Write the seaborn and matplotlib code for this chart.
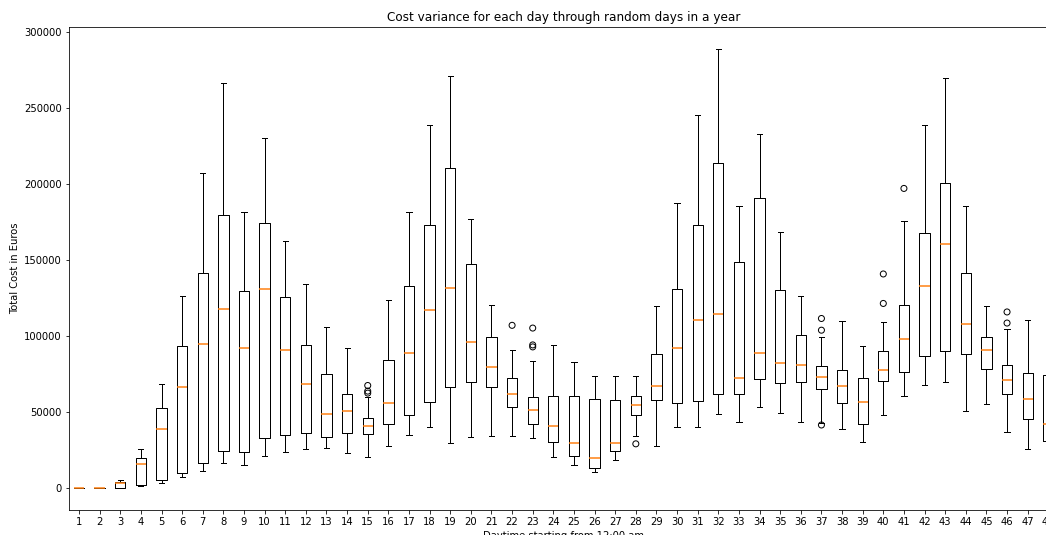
import matplotlib
matplotlib.use("Agg")
import matplotlib.pyplot as plt
import numpy as np
import pandas as pd
import seaborn as sns

# Day labels along the x axis
days = [str(d) for d in range(1, 49)]

# Five-number summary per day (Euros)
whisker_low = [0, 0, 0, 1300, 3400, 7400, 11500, 16200, 15100, 21000,
               23700, 25500, 26100, 23000, 20500, 27500, 34900, 39900, 29800, 33800,
               34300, 34300, 33100, 20500, 15100, 10400, 18500, 34300, 27900, 39900,
               40100, 48500, 43500, 53600, 49100, 43500, 43000, 39000, 30200, 47800,
               60400, 67800, 69900, 50700, 55400, 36700, 25500, 22500]
q1 = [0, 0, 0, 1700, 5000, 9700, 16700, 24300, 23700, 33100,
      34900, 36300, 33800, 36300, 35400, 42400, 48200, 56600, 66500, 69900,
      66500, 53600, 42400, 30200, 21000, 13100, 24300, 48200, 57900, 55900,
      57000, 61800, 61800, 71900, 69200, 69900, 64900, 55900, 42400, 70600,
      76600, 87200, 90400, 88100, 78200, 62200, 45500, 30700]
median = [0, 0, 3500, 15600, 39000, 66500, 94700, 118100, 92200, 131000,
          91100, 68700, 48900, 50700, 40800, 56100, 88800, 117000, 131400, 96000,
          79800, 62200, 51400, 40800, 29800, 19800, 29800, 54800, 67200, 92200,
          110400, 114700, 72400, 88800, 82300, 81100, 73000, 67200, 56600, 77800,
          98000, 132800, 160300, 108200, 91100, 71200, 58600, 42400]
q3 = [0, 0, 3800, 20000, 52500, 93500, 141300, 179400, 129600, 174700,
      126000, 94400, 75300, 61800, 46200, 84100, 132800, 173100, 210700, 147200,
      99600, 72400, 60000, 60600, 60600, 58400, 57900, 60600, 88100, 130700,
      173100, 213900, 148500, 190900, 130300, 101000, 80500, 77800, 72400, 90400,
      120800, 167700, 200600, 141500, 99200, 81100, 76000, 74600]
whisker_high = [0, 0, 5000, 25900, 68800, 126200, 207100, 266400, 181900, 230600,
                162500, 134100, 105700, 92400, 60000, 123500, 181900, 238700, 271400, 177200,
                120400, 91100, 83600, 94000, 83200, 73700, 73700, 73700, 119700, 187300,
                245700, 289000, 185500, 232800, 168300, 126200, 99200, 109800, 93300, 109300,
                175800, 239200, 269800, 185500, 119700, 104800, 110900, 109300]

# Outlying observations (day, value)
outlier_days = ["15", "15", "15", "22", "23", "23", "23", "28",
                "37", "37", "37", "40", "40", "41", "46", "46"]
outlier_values = [62500, 63800, 67500, 107100, 92900, 94200, 105300, 29100,
                  41500, 103900, 111600, 121500, 140900, 197200, 108600, 115900]

# Long-form table: the five summary values for each day reproduce the
# quartiles exactly, and whiskers run to the min / max of each group.
rows = []
for i, d in enumerate(days):
    for v in (whisker_low[i], q1[i], median[i], q3[i], whisker_high[i]):
        rows.append((d, v))
box_df = pd.DataFrame(rows, columns=["day", "cost"])
flier_df = pd.DataFrame({"day": outlier_days, "cost": outlier_values})

W, H, DPI = 1046, 535, 72
fig = plt.figure(figsize=(W / DPI, H / DPI), dpi=DPI)
ax = fig.add_axes([68.7 / W, 1 - 510 / H, (1058.6 - 68.7) / W, (510 - 27) / H])

sns.boxplot(data=box_df, x="day", y="cost", order=days, ax=ax,
            fill=False, color="black", linewidth=1, width=0.5,
            whis=(0, 100), showfliers=False,
            medianprops={"color": "#ff7f0e", "linewidth": 1.5})
sns.stripplot(data=flier_df, x="day", y="cost", order=days, ax=ax,
              jitter=False, color="black", facecolor="none",
              edgecolor="black", linewidth=1, size=6)

ax.set_title("Cost variance for each day through random days in a year")
ax.set_xlabel("Daytime starting from 12:00 am")
ax.set_ylabel("Total Cost in Euros")

fig.savefig("out.png", dpi=DPI)
